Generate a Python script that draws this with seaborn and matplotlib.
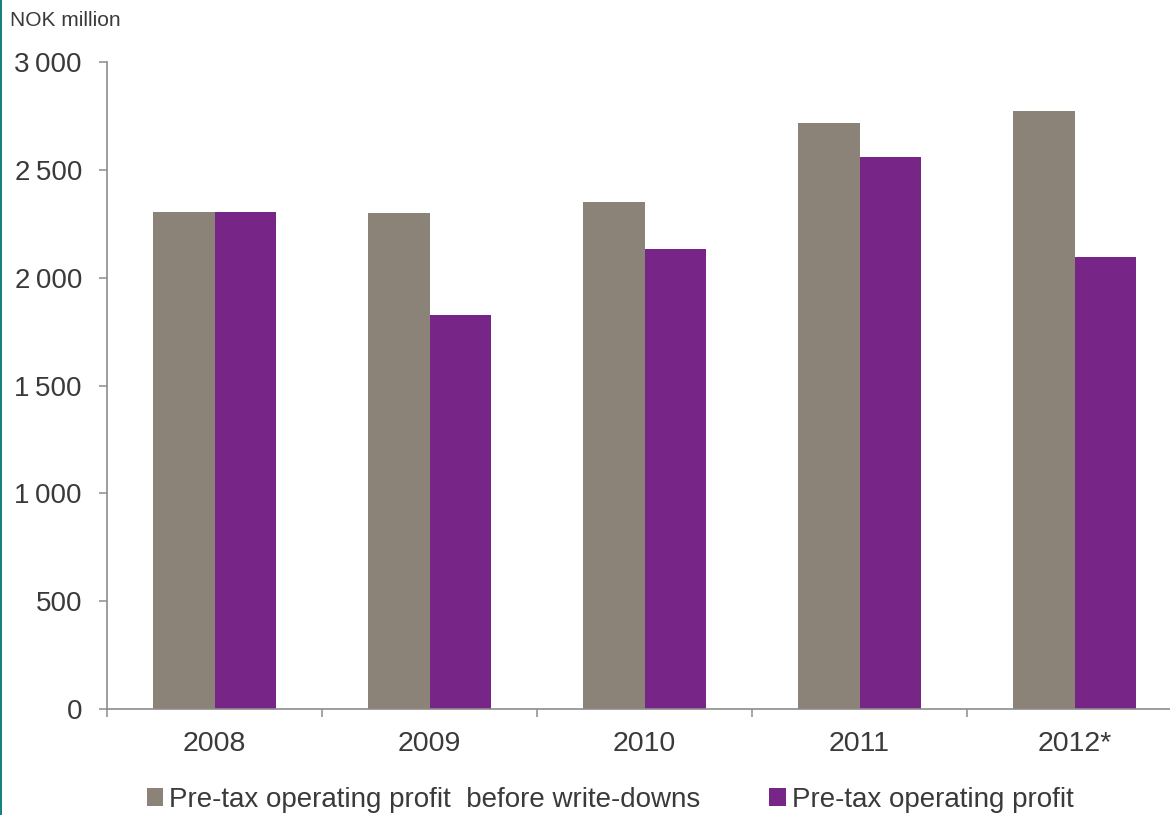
import matplotlib
matplotlib.use("Agg")
import matplotlib.pyplot as plt
from matplotlib.patches import Patch, Rectangle
from matplotlib.ticker import FixedLocator, FuncFormatter
import seaborn as sns
import pandas as pd

years = ["2008", "2009", "2010", "2011", "2012*"]
before_writedowns = [2304, 2300, 2351, 2717, 2772]
operating_profit = [2304, 1827, 2133, 2559, 2096]
series_names = ["Pre-tax operating profit  before write-downs", "Pre-tax operating profit"]
colors = ["#8B8278", "#772687"]
y_ticks = [0, 500, 1000, 1500, 2000, 2500, 3000]

df = pd.DataFrame({
    "year": years * 2,
    "value": before_writedowns + operating_profit,
    "series": [series_names[0]] * len(years) + [series_names[1]] * len(years),
})

sns.set_style("white")
plt.rcParams["font.family"] = ["Liberation Sans", "DejaVu Sans"]
text_color = "#3a3a3a"
axis_color = "#8c8c8c"

fig = plt.figure(figsize=(11.7, 8.15), dpi=100)
ax = fig.add_axes([107 / 1170, 1 - 709 / 815, 1075 / 1170, (709 - 62) / 815])

sns.barplot(data=df, x="year", y="value", hue="series", palette=colors,
            width=0.57, saturation=1, ax=ax, legend=False, linewidth=0)

ax.set_xlim(-0.5, 4.5)
ax.set_ylim(0, 3000)
ax.set_xlabel("")
ax.set_ylabel("")

ax.yaxis.set_major_locator(FixedLocator(y_ticks))
ax.yaxis.set_major_formatter(FuncFormatter(lambda v, p: f"{int(v):,}".replace(",", "\u2009")))
ax.set_xticks(range(len(years)))
ax.set_xticklabels(years)
ax.set_xticks([i - 0.5 for i in range(len(years) + 1)], minor=True)

ax.tick_params(axis="y", which="major", length=6, width=1.1, color=axis_color,
               labelsize=20, labelcolor=text_color, pad=12, direction="out", left=True)
ax.tick_params(axis="x", which="major", length=0, labelsize=20.5, labelcolor=text_color, pad=16)
ax.tick_params(axis="x", which="minor", length=6, width=1.1, color=axis_color,
               direction="out", bottom=True)

for s in ["top", "right"]:
    ax.spines[s].set_visible(False)
for s in ["left", "bottom"]:
    ax.spines[s].set_color(axis_color)
    ax.spines[s].set_linewidth(1.2)

fig.text(10 / 1170, 1 - 20 / 815, "NOK million", fontsize=15, color=text_color,
         ha="left", va="center")

# teal edge line at left
fig.patches.append(Rectangle((0, 0), 2 / 1170, 1, transform=fig.transFigure,
                             facecolor="#17837f", edgecolor="none"))

handles = [Patch(facecolor=c, edgecolor="none") for c in colors]
fig.legend(handles, series_names, loc="center", bbox_to_anchor=(610 / 1170, 1 - 800 / 815),
           ncol=2, frameon=False, fontsize=20, labelcolor=text_color,
           handlelength=0.6, handleheight=0.6, handletextpad=0.2, columnspacing=2.5,
           borderaxespad=0, borderpad=0)

fig.savefig("out.png", dpi=100)
